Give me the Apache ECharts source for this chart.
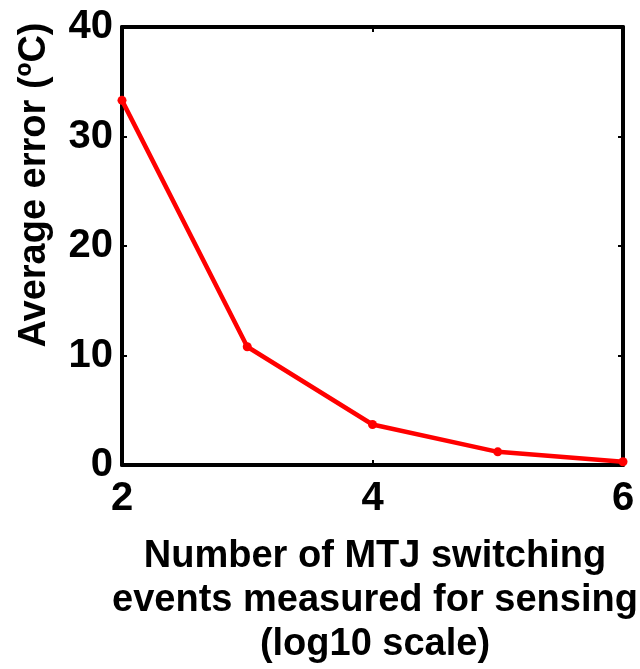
<!DOCTYPE html>
<html>
<head>
<meta charset="utf-8">
<script src="https://cdn.jsdelivr.net/npm/echarts@6/dist/echarts.min.js"></script>
<style>
html,body{margin:0;padding:0;background:#fff;}
#chart{width:640px;height:669px;}
</style>
</head>
<body>
<div id="chart"></div>
<script>
// Data
var xValues = [2, 3, 4, 5, 6];            // log10(number of switching events)
var avgError = [33.3, 10.8, 3.7, 1.2, 0.3]; // average error (ºC)
var xTicks = [2, 4, 6];
var yTicks = [0, 10, 20, 30, 40];
var xTitle = 'Number of MTJ switching\nevents measured for sensing\n(log10 scale)';
var yTitle = 'Average error (ºC)';

var FONT = '"Liberation Sans", Arial, Helvetica, sans-serif';
var chart = echarts.init(document.getElementById('chart'), null, {renderer: 'canvas'});

var baseX = {
  type: 'value', min: 2, max: 6, interval: 2,
  axisLine: {show: true, onZero: false, lineStyle: {color: '#000', width: 4}},
  axisTick: {show: true, inside: true, length: 5, lineStyle: {color: '#000', width: 2}},
  splitLine: {show: false}
};
var baseY = {
  type: 'value', min: 0, max: 40, interval: 10,
  axisLine: {show: true, onZero: false, lineStyle: {color: '#000', width: 4}},
  axisTick: {show: true, inside: true, length: 5, lineStyle: {color: '#000', width: 2}},
  splitLine: {show: false}
};

var option = {
  backgroundColor: '#fff',
  animation: false,
  grid: {left: 122, right: 17, top: 27, bottom: 204, containLabel: false},
  xAxis: [
    Object.assign({}, baseX, {
      position: 'bottom',
      axisLabel: {show: true, color: '#000', fontFamily: FONT, fontWeight: 'bold', fontSize: 40, margin: 14,
        formatter: function (v) { return xTicks.indexOf(v) >= 0 ? String(v) : ''; }}
    }),
    Object.assign({}, baseX, {position: 'top', axisLabel: {show: false}})
  ],
  yAxis: [
    Object.assign({}, baseY, {
      position: 'left',
      axisLabel: {show: true, color: '#000', fontFamily: FONT, fontWeight: 'bold', fontSize: 40, margin: 9,
        formatter: function (v) { return yTicks.indexOf(v) >= 0 ? String(v) : ''; }}
    }),
    Object.assign({}, baseY, {position: 'right', axisLabel: {show: false}})
  ],
  graphic: [
    {
      type: 'text',
      x: 375, y: 601,
      style: {
        text: xTitle, fill: '#000', font: 'bold 38px ' + FONT,
        textAlign: 'center', textVerticalAlign: 'middle', lineHeight: 44
      }
    },
    {
      type: 'text',
      x: 35, y: 185, rotation: Math.PI / 2,
      style: {
        text: yTitle, fill: '#000', font: 'bold 38px ' + FONT,
        textAlign: 'center', textVerticalAlign: 'middle'
      }
    }
  ],
  series: [{
    type: 'line',
    xAxisIndex: 0, yAxisIndex: 0,
    data: xValues.map(function (x, i) { return [x, avgError[i]]; }),
    lineStyle: {color: '#ff0000', width: 4.5},
    itemStyle: {color: '#ff0000'},
    symbol: 'circle', symbolSize: 9,
    clip: false,
    z: 3
  }]
};
chart.setOption(option);
</script>
</body>
</html>
